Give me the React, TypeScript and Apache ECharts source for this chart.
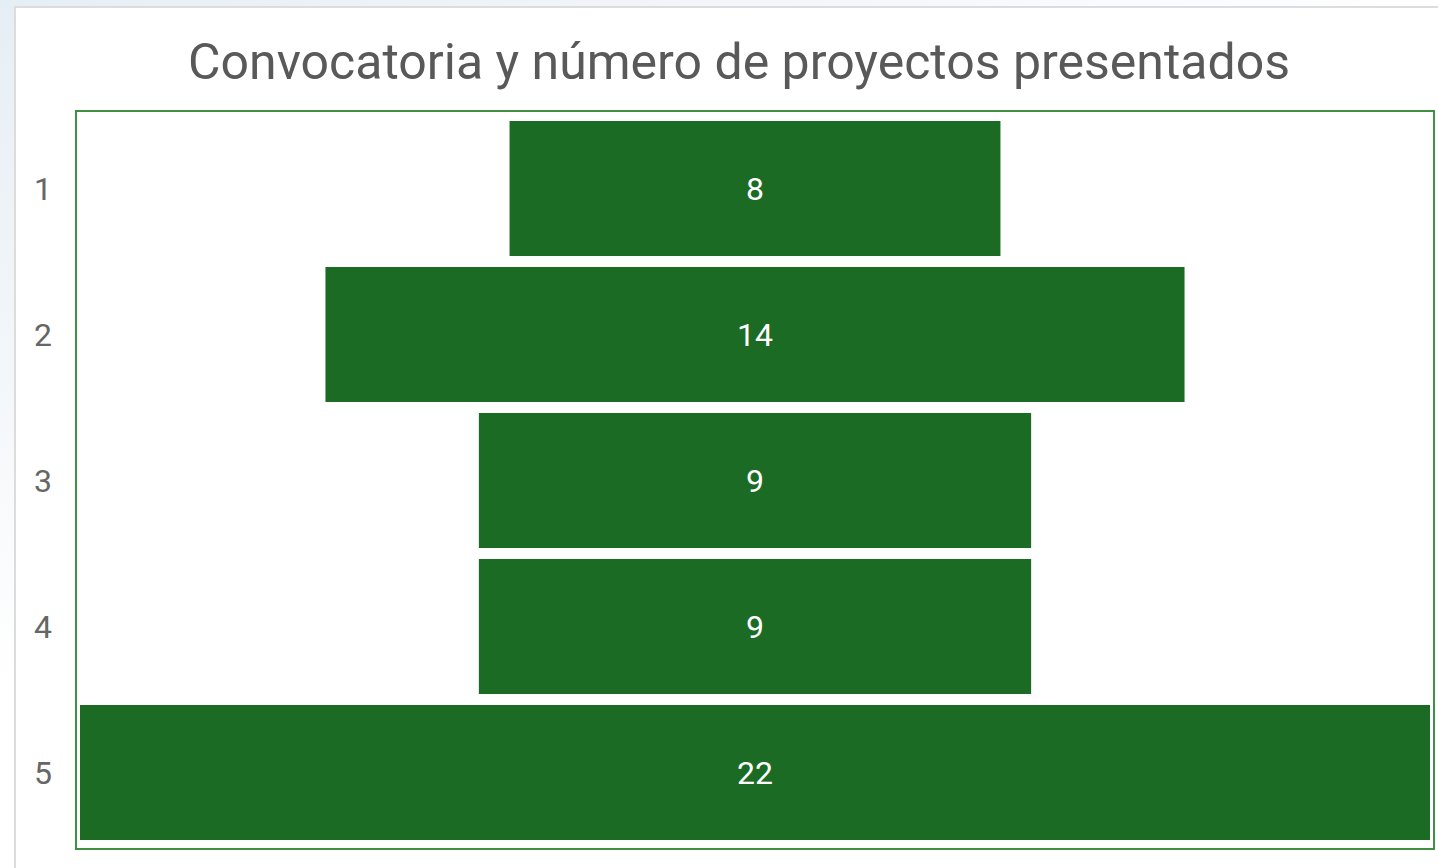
import React, { useEffect, useRef } from "react";
import * as echarts from "echarts";

const categories = ["1", "2", "3", "4", "5"];
const projects = [8, 14, 9, 9, 22];
const maxValue = 22;
const titleText = "Convocatoria y número de proyectos presentados";

export default function App() {
  const ref = useRef<HTMLDivElement>(null);
  useEffect(() => {
    document.body.style.margin = "0";
    const chart = echarts.init(ref.current!, null, { renderer: "svg" });
    const offsets = projects.map((v) => (maxValue - v) / 2);
    chart.setOption({
      animation: false,
      title: {
        text: titleText,
        left: 734,
        top: 32,
        textAlign: "center",
        textStyle: { fontFamily: "Roboto", fontSize: 50, fontWeight: "normal", color: "#595959" },
      },
      grid: { left: 80, right: 8, top: 115.5, height: 730 },
      xAxis: { type: "value", min: 0, max: maxValue, show: false },
      yAxis: {
        type: "category",
        data: categories,
        inverse: true,
        axisLine: { show: false },
        axisTick: { show: false },
        splitLine: { show: false },
        axisLabel: { fontFamily: "Roboto", fontSize: 32, color: "#666", margin: 28 },
      },
      graphic: [
        {
          type: "rect",
          shape: { x: 76, y: 111, width: 1358, height: 738 },
          style: { fill: "none", stroke: "#3f8f44", lineWidth: 2 },
          z: 0,
          silent: true,
        },
      ],
      series: [
        {
          type: "bar",
          stack: "f",
          data: offsets,
          itemStyle: { color: "transparent" },
          barCategoryGap: "7.5%",
          silent: true,
        },
        {
          type: "bar",
          stack: "f",
          data: projects,
          itemStyle: { color: "#1b6b24", borderColor: "#ffffff", borderWidth: 0 },
          barCategoryGap: "7.5%",
          label: {
            show: true,
            position: "inside",
            color: "#ffffff",
            fontFamily: "Roboto",
            fontSize: 32,
          },
        },
      ],
    });
    return () => chart.dispose();
  }, []);
  return (
    <div
      style={{
        position: "fixed",
        left: 0,
        top: 0,
        width: 1438,
        height: 868,
        background: "linear-gradient(155deg, #e6eef5 0%, #f4f7fa 25%, #ffffff 45%)",
        overflow: "hidden",
      }}
    >
      <div
        style={{
          position: "absolute",
          left: 14,
          top: 6,
          width: 1440,
          height: 880,
          background: "#fff",
          border: "2px solid #dcdcdc",
        }}
      />
      <div ref={ref} style={{ position: "absolute", left: 0, top: 0, width: 1438, height: 868 }} />
    </div>
  );
}
